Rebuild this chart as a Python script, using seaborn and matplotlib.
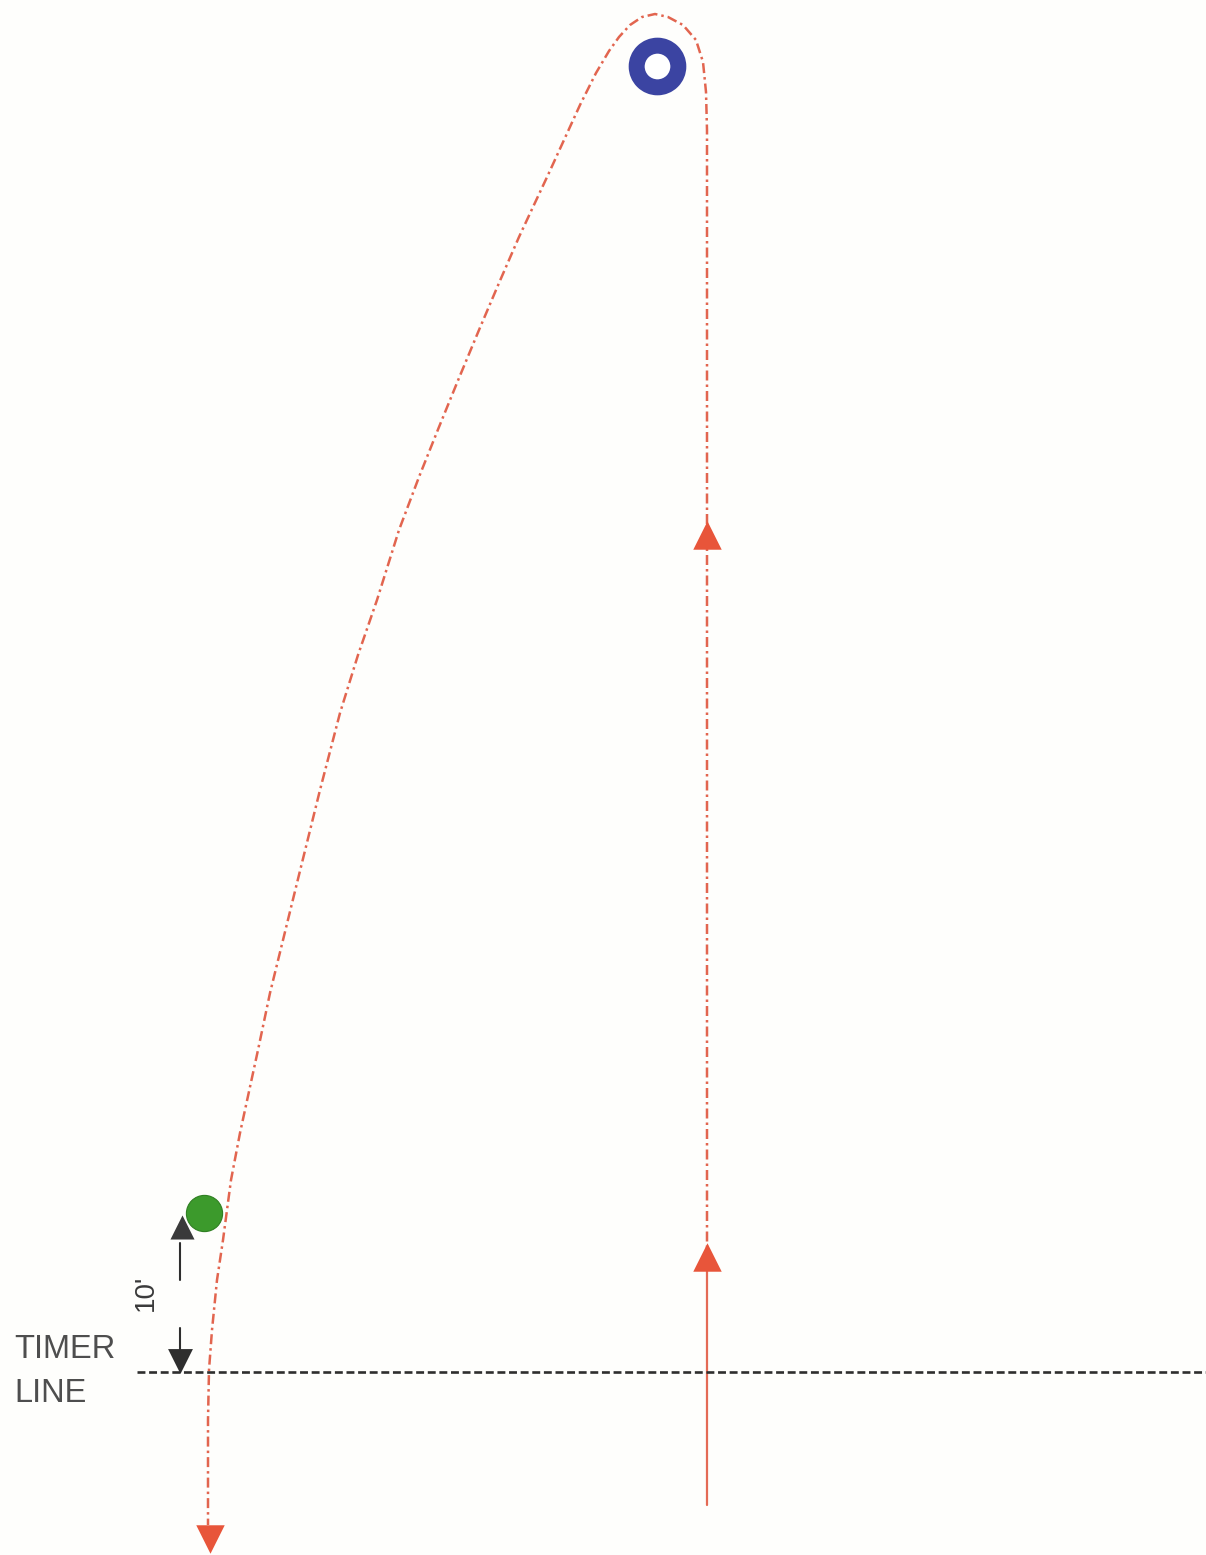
import matplotlib

matplotlib.use("Agg")
import matplotlib.pyplot as plt
import seaborn as sns

# diagram drawn in pixel space of the original sheet (y grows downward)
W, H = 1206, 1555

# dashed ride path: up the right line, round the pin, back down the left side
path_x = [707, 707, 707, 707, 706, 703, 696, 683, 668, 655, 642, 630, 619, 609, 596, 580,
          564, 548, 533, 519, 499, 479, 459, 439, 419, 399, 377, 358, 340, 320, 297, 270,
          258, 240, 231, 223, 217, 212, 209, 208, 208]
path_y = [1262, 800, 300, 130, 92, 62, 40, 25, 17, 14, 17, 25, 37, 51, 73, 105,
          140, 175, 207, 237, 283, 330, 378, 427, 477, 530, 600, 655, 713, 790, 883, 993,
          1050, 1133, 1180, 1240, 1280, 1330, 1370, 1420, 1525]

# solid approach leg
approach_x = [707, 707]
approach_y = [1505, 1270]

# timer line
timer_x = [137, 1206]
timer_y = [1372, 1372]

# 10' dimension segments
dim_upper_x = [180, 180]
dim_upper_y = [1243, 1280]
dim_lower_x = [180, 180]
dim_lower_y = [1328, 1356]

# arrow heads
red_up_x = [707, 707]
red_up_y = [1257, 535]
red_down_x = [210]
red_down_y = [1539]
dark_up_x = [182]
dark_up_y = [1227]
dark_down_x = [180]
dark_down_y = [1361]

# pin (blue ring) and start cone (green dot)
pin_x, pin_y = [657], [66]
cone_x, cone_y = [204], [1213]

RED = "#e2654f"
RED_SOLID = "#e46a55"
ARROW_RED = "#e8553a"
DARK = "#2e2e2e"

sns.set_style("white")
fig = plt.figure(figsize=(W / 100, H / 100), dpi=100)
ax = fig.add_axes([0, 0, 1, 1])

sns.lineplot(x=path_x, y=path_y, sort=False, estimator=None, ax=ax, color=RED,
             linewidth=1.8, linestyle=(0, (4, 1.6, 1, 1.6)))
sns.lineplot(x=approach_x, y=approach_y, sort=False, estimator=None, ax=ax,
             color=RED_SOLID, linewidth=1.6)
sns.lineplot(x=timer_x, y=timer_y, sort=False, estimator=None, ax=ax, color=DARK,
             linewidth=1.9, linestyle=(0, (3, 1.4)))
sns.lineplot(x=dim_upper_x, y=dim_upper_y, sort=False, estimator=None, ax=ax,
             color=DARK, linewidth=1.5)
sns.lineplot(x=dim_lower_x, y=dim_lower_y, sort=False, estimator=None, ax=ax,
             color=DARK, linewidth=1.5)

sns.scatterplot(x=red_up_x, y=red_up_y, marker="^", s=420, color=ARROW_RED,
                linewidth=0, ax=ax, zorder=5)
sns.scatterplot(x=red_down_x, y=red_down_y, marker="v", s=420, color=ARROW_RED,
                linewidth=0, ax=ax, zorder=5)
sns.scatterplot(x=dark_up_x, y=dark_up_y, marker="^", s=300, color="#3a3a3a",
                linewidth=0, ax=ax, zorder=4)
sns.scatterplot(x=dark_down_x, y=dark_down_y, marker="v", s=320, color=DARK,
                linewidth=0, ax=ax, zorder=5)

sns.scatterplot(x=pin_x, y=pin_y, marker="o", s=900, facecolor="white",
                edgecolor="#3b44a2", linewidth=11.5, ax=ax, zorder=6)
sns.scatterplot(x=cone_x, y=cone_y, marker="o", s=680, color="#3c9a2c",
                edgecolor="#2f7f22", linewidth=0.8, ax=ax, zorder=6)

ax.text(146, 1293, "10'", rotation=90, ha="center", va="center", fontsize=20,
        color="#3a3a3a", family="Liberation Sans")
ax.text(14, 1358, "TIMER", ha="left", va="baseline", fontsize=23.5,
        color="#4e4e4e", family="Liberation Sans")
ax.text(14, 1402, "LINE", ha="left", va="baseline", fontsize=23.5,
        color="#4e4e4e", family="Liberation Sans")

ax.set_xlim(0, W)
ax.set_ylim(H, 0)
ax.set_axis_off()
fig.patch.set_facecolor("#fefefc")

fig.savefig("out.png", dpi=100, facecolor=fig.get_facecolor())
plt.close(fig)
